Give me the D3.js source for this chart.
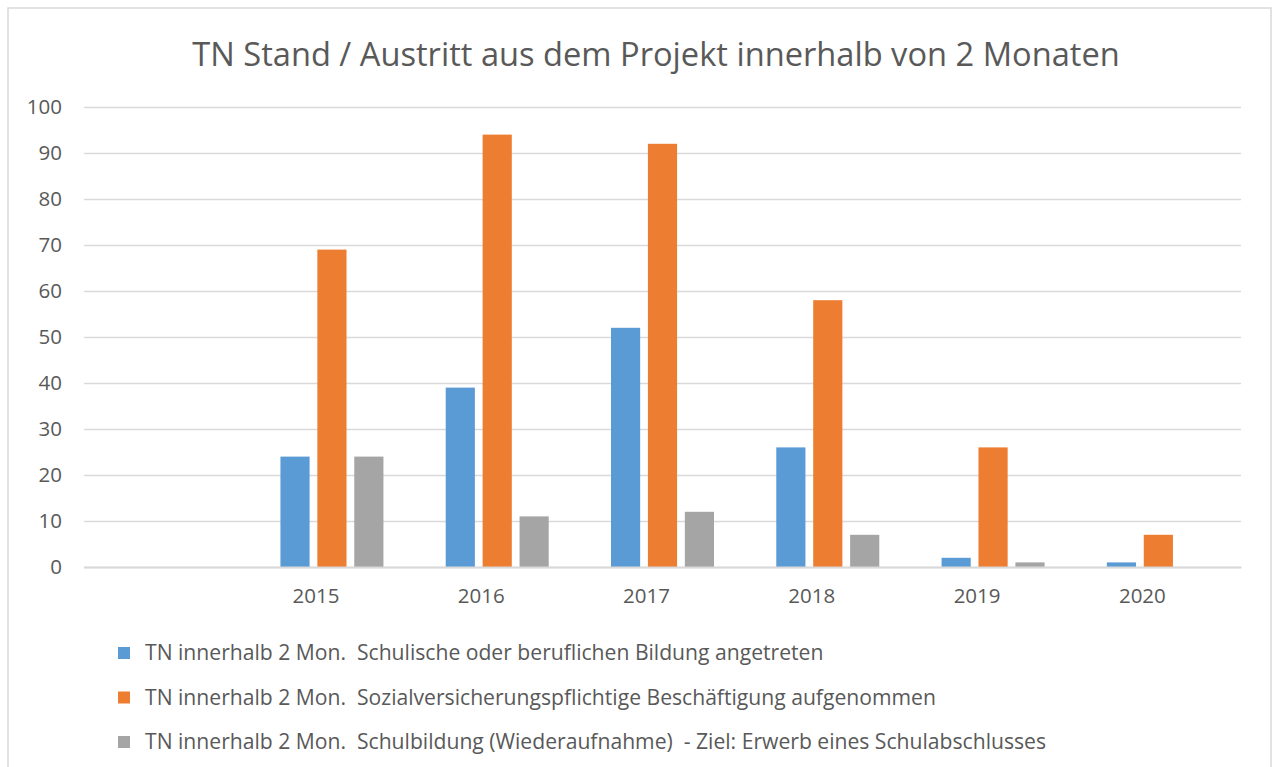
<!DOCTYPE html>
<html>
<head>
<meta charset="utf-8">
<script src="https://cdn.jsdelivr.net/npm/d3@7"></script>
<style>
  body { margin: 0; background: #fff; }
  text { font-family: "Open Sans", "Liberation Sans", sans-serif; fill: #595959; }
</style>
</head>
<body>
<div id="chart"></div>
<script>
// categories (first one is empty in the original chart)
var years = ["", "2015", "2016", "2017", "2018", "2019", "2020"];
var seriesNames = [
    "TN innerhalb 2 Mon.  Schulische oder beruflichen Bildung angetreten",
    "TN innerhalb 2 Mon.  Sozialversicherungspflichtige Beschäftigung aufgenommen",
    "TN innerhalb 2 Mon.  Schulbildung (Wiederaufnahme)  - Ziel: Erwerb eines Schulabschlusses"
];
var bildung = [null, 24, 39, 52, 26, 2, 1];
var beschaeftigung = [null, 69, 94, 92, 58, 26, 7];
var schulbildung = [null, 24, 11, 12, 7, 1, null];
var yTicks = [0, 10, 20, 30, 40, 50, 60, 70, 80, 90, 100];
var colors = ["#5b9bd5", "#ed7d31", "#a5a5a5"];

function drawChart() {
    var W = 1272, H = 767;
    var mLeft = 84, mRight = 1241, mTop = 107, mBottom = 567;

    var svg = d3.select("#chart").append("svg")
        .attr("width", W).attr("height", H);

    // outer frame
    svg.append("rect")
        .attr("x", 8).attr("y", 8)
        .attr("width", 1263).attr("height", 790)
        .attr("fill", "none").attr("stroke", "#d9d9d9").attr("stroke-width", 1.5);

    var title = svg.append("text")
        .attr("x", 656).attr("y", 66)
        .attr("text-anchor", "middle")
        .style("font-size", "32px")
        .text("TN Stand / Austritt aus dem Projekt innerhalb von 2 Monaten");
    // fit title to the width seen in the picture
    var tw = title.node().getComputedTextLength();
    title.style("font-size", (32 * 928 / tw) + "px");

    var x0 = d3.scaleBand().domain(years).range([mLeft, mRight]).padding(0);
    var groupW = 103;
    var x1 = d3.scaleBand().domain([0, 1, 2])
        .range([(x0.bandwidth() - groupW) / 2, (x0.bandwidth() + groupW) / 2])
        .paddingInner(0.21);
    var y = d3.scaleLinear().domain([0, 100]).range([mBottom, mTop]);

    //gridlines + y labels
    var yAxis = d3.axisLeft(y).tickValues(yTicks).tickSize(-(mRight - mLeft)).tickPadding(22);
    var gy = svg.append("g")
        .attr("transform", "translate(" + mLeft + ",0)")
        .call(yAxis);
    gy.select(".domain").remove();
    gy.selectAll(".tick line").attr("stroke", "#d9d9d9").attr("stroke-width", 1.3);
    gy.selectAll(".tick text").style("font-size", "20.5px").attr("fill", "#595959");

    var data = [bildung, beschaeftigung, schulbildung];
    var g = svg.append("g");
    years.forEach(function (yr, i) {
        var grp = g.append("g").attr("transform", "translate(" + x0(yr) + ",0)");
        data.forEach(function (s, k) {
            if (s[i] == null || s[i] === 0) return;
            grp.append("rect")
                .attr("x", x1(k))
                .attr("y", y(s[i]))
                .attr("width", x1.bandwidth())
                .attr("height", y(0) - y(s[i]))
                .attr("fill", colors[k]);
        });
    });

    //x axis
    var xAxis = d3.axisBottom(x0).tickSize(0).tickPadding(21);
    var gx = svg.append("g")
        .attr("transform", "translate(0," + mBottom + ")")
        .call(xAxis);
    gx.select(".domain").attr("stroke", "#d9d9d9").attr("stroke-width", 2);
    gx.selectAll(".tick text").style("font-size", "20.5px").attr("fill", "#595959")
        .attr("dx", -16);

    // legend
    var legend = svg.append("g");
    var fs = 18;
    seriesNames.forEach(function (name, k) {
        var ly = 653 + k * 44.5;
        legend.append("rect")
            .attr("x", 118).attr("y", ly - 6)
            .attr("width", 12).attr("height", 12)
            .attr("fill", colors[k]);
        legend.append("text")
            .attr("class", "leg")
            .attr("x", 145).attr("y", ly)
            .attr("dy", "0.35em")
            .style("font-size", fs + "px")
            .style("white-space", "pre")
            .attr("xml:space", "preserve")
            .text(name);
    });
    // size legend text so the longest row matches the picture
    var last = legend.selectAll(".leg").nodes()[2];
    var lw = last.getComputedTextLength();
    legend.selectAll(".leg").style("font-size", (fs * 902 / lw) + "px");
}

drawChart();
</script>
</body>
</html>
